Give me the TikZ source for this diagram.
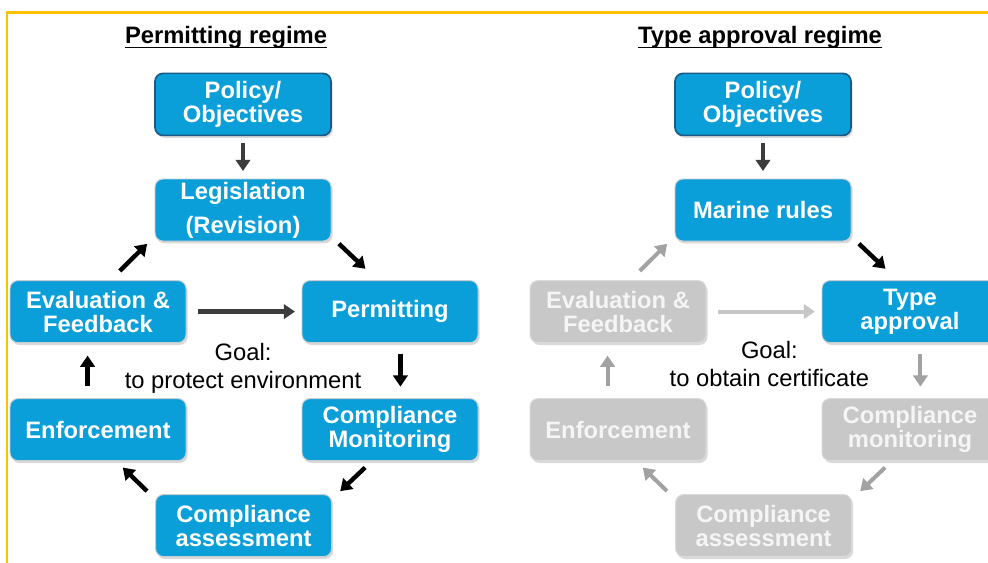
\documentclass[tikz,border=0pt]{standalone}
\usepackage{fontspec}
\setmainfont{Liberation Sans}
\usetikzlibrary{positioning,arrows.meta,shadows}

\definecolor{boxblue}{HTML}{0A9FD9}
\definecolor{boxnavy}{HTML}{1B5A84}
\definecolor{boxrim}{HTML}{C9CDD0}
\definecolor{boxgrey}{HTML}{C8C8C8}
\definecolor{greyrim}{HTML}{DADADA}
\definecolor{greytext}{HTML}{F5F5F5}
\definecolor{frameorange}{HTML}{FFC000}
\definecolor{arrdark}{HTML}{3C3C3C}
\definecolor{arrfaded}{HTML}{A2A2A2}
\definecolor{arrpale}{HTML}{C6C6C6}

\begin{document}
\begin{tikzpicture}
[every node/.style={inner sep=0mm,outer sep=0mm,align=center,font=\fontsize{16.9}{17.1}\selectfont\bfseries},
 stage/.style={rectangle,rounded corners=2mm,minimum width=44mm,minimum height=15.5mm,
               text=white,fill=boxblue,draw=boxrim,line width=0.7pt,
               drop shadow={opacity=0.3,shadow xshift=0.4mm,shadow yshift=-0.6mm}},
 root/.style={stage,draw=boxnavy,line width=1.2pt},
 faded/.style={stage,fill=boxgrey,draw=greyrim,text=greytext},
 goal/.style={font=\fontsize{16.9}{19.9}\selectfont},
 arr/.style={line width=1.1mm,-{Triangle[width=3.6mm,length=2.8mm]}},
 dark/.style={arrdark},
 dim/.style={arrfaded,line width=1mm},
 pale/.style={arrpale,line width=1mm}]
\useasboundingbox (0,0) rectangle (247mm,-140.5mm);

% frame
\draw[frameorange,line width=0.55mm] (248mm,-3.1mm) -- (1.8mm,-3.1mm) -- (1.8mm,-141mm);

% permitting regime
\node[anchor=base] (headL) at (56.5mm,-10.75mm) {Permitting regime};
\draw[line width=0.45mm] ([yshift=-1.1mm]headL.base west) -- ([yshift=-1.1mm]headL.base east);

\node[root]  (polL) at (60.75mm,-26.1mm)                             {Policy/\\Objectives};
\node[stage] (legL) [on grid,below=26.4mm of polL]                   {Legislation\\[2.5mm](Revision)};
\node[stage] (evaL) [on grid,below  left=25.4mm and 36.25mm of legL] {Evaluation \&\\Feedback};
\node[stage] (perL) [on grid,below right=25.4mm and 36.75mm of legL] {Permitting};
\node[stage] (enfL) [on grid,below=29.5mm of evaL]                   {Enforcement};
\node[stage] (monL) [on grid,below=29.5mm of perL]                   {Compliance\\Monitoring};
\node[stage] (assL) [on grid,below right=24mm and 36.4mm of enfL]    {Compliance\\assessment};
\node[goal]  (goalL) [on grid,below=39.7mm of legL]                  {Goal:\\to protect environment};

\path[arr,dark,shorten <=2mm,shorten >=2mm]      (polL) edge (legL);
\path[arr,shorten <=3.45mm,shorten >=1mm]        ([xshift=3mm]evaL.north) edge ([xshift=-1.25mm]legL.south west);
\path[arr,shorten <=1mm,shorten >=4.3mm]         ([xshift=1.25mm]legL.south east) edge ([xshift=-3mm]perL.north);
\path[arr,dark,shorten <=3mm,shorten >=1.75mm]   (evaL) edge (perL);
\path[arr,shorten <=2.75mm,shorten >=3mm]        ([xshift=2.6mm]perL.south) edge ([xshift=2.6mm]monL.north);
\path[arr,shorten <=2.5mm,shorten >=1.25mm]      ([xshift=-4.4mm]monL.south) edge ([xshift=1.25mm]assL.north east);
\path[arr,shorten <=1.25mm,shorten >=2.5mm]      ([xshift=-1.25mm]assL.north west) edge ([xshift=4.4mm]enfL.south);
\path[arr,shorten <=3.25mm,shorten >=3.25mm]     ([xshift=-2.6mm]enfL.north) edge ([xshift=-2.6mm]evaL.south);

% type approval regime
\node[anchor=base] (headR) at (190mm,-10.75mm) {Type approval regime};
\draw[line width=0.45mm] ([yshift=-1.1mm]headR.base west) -- ([yshift=-1.1mm]headR.base east);

\node[root]  (polR) [on grid,right=130mm of polL]                    {Policy/\\Objectives};
\node[stage] (marR) [on grid,below=26.4mm of polR]                   {Marine rules};
\node[faded] (evaR) [on grid,below  left=25.4mm and 36.25mm of marR] {Evaluation \&\\Feedback};
\node[stage] (typR) [on grid,below right=25.4mm and 36.75mm of marR] {Type\\approval};
\node[faded] (enfR) [on grid,below=29.5mm of evaR]                   {Enforcement};
\node[faded] (monR) [on grid,below=29.5mm of typR]                   {Compliance\\monitoring};
\node[faded] (assR) [on grid,below right=24mm and 36.4mm of enfR]    {Compliance\\assessment};
\node[goal]  (goalR) [on grid,below right=38.4mm and 1.6mm of marR]  {Goal:\\to obtain certificate};

\path[arr,dark,shorten <=2mm,shorten >=2mm]      (polR) edge (marR);
\path[arr,dim,shorten <=3.45mm,shorten >=1mm]    ([xshift=3mm]evaR.north) edge ([xshift=-1.25mm]marR.south west);
\path[arr,shorten <=1mm,shorten >=4.3mm]         ([xshift=1.25mm]marR.south east) edge ([xshift=-3mm]typR.north);
\path[arr,pale,shorten <=3mm,shorten >=1.75mm]   (evaR) edge (typR);
\path[arr,dim,shorten <=2.75mm,shorten >=3mm]    ([xshift=2.6mm]typR.south) edge ([xshift=2.6mm]monR.north);
\path[arr,dim,shorten <=2.5mm,shorten >=1.25mm]  ([xshift=-4.4mm]monR.south) edge ([xshift=1.25mm]assR.north east);
\path[arr,dim,shorten <=1.25mm,shorten >=2.5mm]  ([xshift=-1.25mm]assR.north west) edge ([xshift=4.4mm]enfR.south);
\path[arr,dim,shorten <=3.25mm,shorten >=3.25mm] ([xshift=-2.6mm]enfR.north) edge ([xshift=-2.6mm]evaR.south);
\end{tikzpicture}
\end{document}
